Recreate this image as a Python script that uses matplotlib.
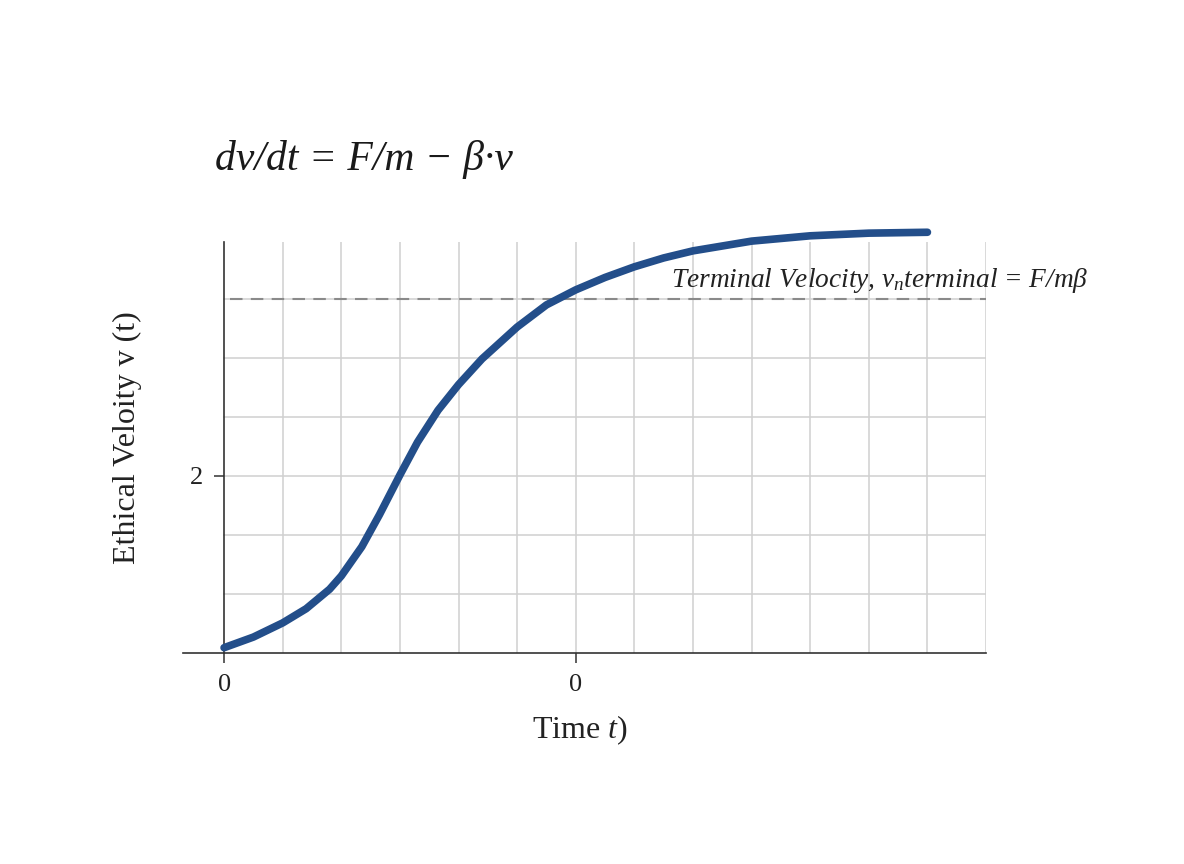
import matplotlib.pyplot as plt

plt.rcParams['font.family'] = ['Liberation Serif', 'DejaVu Serif']
plt.rcParams['mathtext.fontset'] = 'custom'
plt.rcParams['mathtext.rm'] = 'Liberation Serif'
plt.rcParams['mathtext.it'] = 'Liberation Serif:italic'

# curve (x in grid steps, y in velocity units)
t_vals = [0, 0.5, 1.0, 1.4, 1.8, 2.0, 2.35, 2.65, 3.0, 3.3, 3.65, 4.0, 4.4,
          5.0, 5.5, 6.0, 6.5, 7.0, 7.5, 8.0, 9.0, 10.0, 11.0, 12.0]
v_vals = [0.06, 0.18, 0.34, 0.50, 0.72, 0.87, 1.20, 1.56, 2.01, 2.38, 2.74, 3.03, 3.32,
          3.68, 3.93, 4.10, 4.24, 4.36, 4.46, 4.54, 4.65, 4.71, 4.74, 4.75]
v_terminal = 4
x_ticks = [0, 6]
x_ticklabels = ['0', '0']
y_ticks = [2]
y_ticklabels = ['2']

fig = plt.figure(figsize=(11.84, 8.64), dpi=100)
ax = fig.add_axes([0.1546, 0.2442, 0.6782, 0.4757])
ax.set_xlim(-0.7, 13)
ax.set_ylim(0, 4.64)

# grid
for gx in range(1, 14):
    ax.plot([gx, gx], [0, 4.64], color='#d0d0d0', lw=1.1, zorder=0)
for k in range(1, 7):
    ax.plot([0, 13], [k * 2 / 3, k * 2 / 3], color='#d0d0d0', lw=1.1, zorder=0)

ax.plot([0.1, 13], [v_terminal, v_terminal], color='#8a8a8a', lw=1.5,
        dashes=(6, 4), zorder=1)
ax.plot(t_vals, v_vals, color='#234e8a', lw=5.5, solid_capstyle='round',
        solid_joinstyle='round', zorder=3, clip_on=False)

ax.text(14.75, 4.13, r'Terminal Velocity, $v_{\mathregular{n}}$terminal = F/mβ',
        ha='right', va='baseline', fontsize=19.7, style='italic', color='#222222')

for s in ['top', 'right']:
    ax.spines[s].set_visible(False)
ax.spines['left'].set_position(('data', 0))
ax.spines['left'].set_color('#333333')
ax.spines['bottom'].set_color('#333333')
ax.spines['left'].set_linewidth(1.2)
ax.spines['bottom'].set_linewidth(1.2)

ax.set_xticks(x_ticks)
ax.set_xticklabels(x_ticklabels)
ax.set_yticks(y_ticks)
ax.set_yticklabels(y_ticklabels)
ax.tick_params(axis='both', length=7, width=1.1, color='#333333',
               labelsize=19, labelcolor='#222222', pad=8)

fig.text(0.1816, 0.803, 'dv/dt = F/m − β·v', fontsize=30, style='italic',
         color='#1a1a1a', va='baseline')
fig.text(0.108, 0.494, 'Ethical Veloity v (t)', rotation=90, fontsize=23,
         ha='center', va='center', color='#222222')
fig.text(0.49, 0.155, r'Time $t)$', fontsize=23, ha='center', va='center',
         color='#222222')

fig.savefig('out.png', dpi=100, facecolor='white')
